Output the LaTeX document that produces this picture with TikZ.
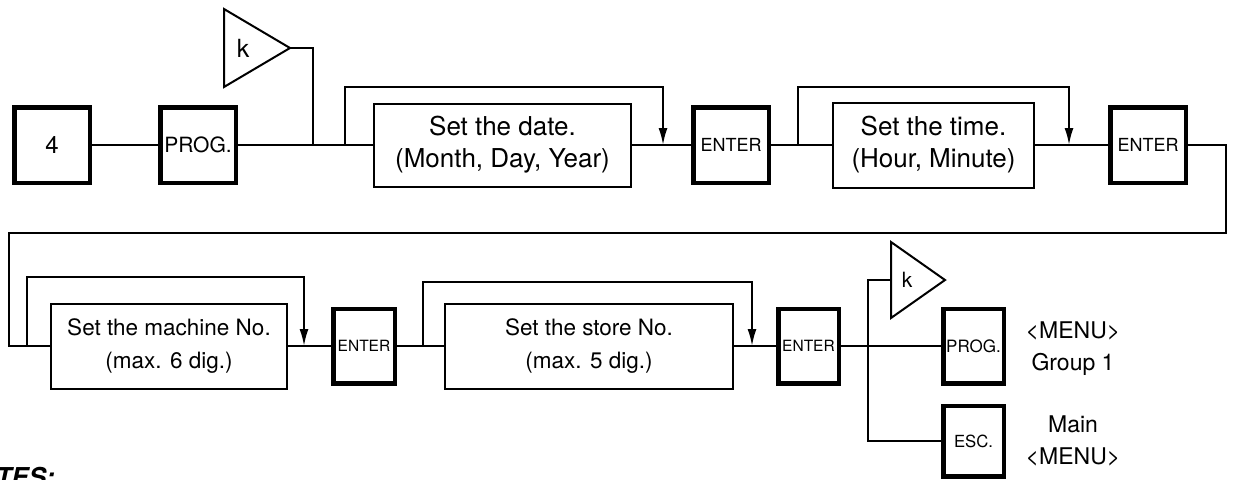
\documentclass[tikz,border=0pt]{standalone}
\usepackage{fontspec}
\setmainfont{TeX Gyre Heros}
\usetikzlibrary{arrows.meta}
\begin{document}
\begin{tikzpicture}[x=1pt,y=-1pt,
  key/.style={draw,line width=4.5pt,inner sep=0pt,minimum width=75.5pt,minimum height=75.5pt},
  skey/.style={draw,line width=4.5pt,inner sep=0pt,minimum width=60.5pt,minimum height=74.5pt},
  setbox/.style={draw,line width=2pt,inner sep=0pt,align=center},
  wire/.style={line width=2pt},
  arr/.style={wire,-{Latex[length=17pt,width=9pt]}},
  tri/.style={draw,line width=2pt,line join=miter},
  big/.style={font=\fontsize{26}{32}\selectfont},
  mid/.style={font=\fontsize{22.5}{33}\selectfont}]
\useasboundingbox (0,0) rectangle (1236,479);
% row 1
\node[key,font=\fontsize{24}{28}\selectfont] (n4) at (52,145) {4};
\node[key,font=\fontsize{21}{24}\selectfont] (prog1) at (198,145) {PROG.};
\node[setbox,big,minimum width=257pt,minimum height=83pt] (date) at (502.5,145) {Set the date.\\(Month, Day, Year)};
\node[key,font=\fontsize{18}{22}\selectfont] (enter1) at (731,145) {ENTER};
\node[setbox,big,minimum width=201pt,minimum height=85pt] (time) at (933.5,145) {Set the time.\\(Hour, Minute)};
\node[key,font=\fontsize{18}{22}\selectfont] (enter2) at (1148,145) {ENTER};
% row 2
\node[setbox,mid,minimum width=236pt,minimum height=85pt] (machine) at (169,346) {Set the machine No.\\(max. 6 dig.)};
\node[skey,minimum width=61.5pt,font=\fontsize{15.5}{20}\selectfont] (enter3) at (364,346) {ENTER};
\node[setbox,mid,minimum width=288pt,minimum height=85pt] (store) at (589,346) {Set the store No.\\(max. 5 dig.)};
\node[skey,font=\fontsize{15.5}{20}\selectfont] (enter4) at (808.5,346) {ENTER};
\node[skey,font=\fontsize{17}{20}\selectfont] (prog2) at (973.5,346) {PROG.};
\node[skey,minimum height=70.5pt,font=\fontsize{16.7}{20}\selectfont] (esc) at (973.5,441) {ESC.};
\node[align=center,font=\fontsize{23}{32}\selectfont] (menu1) at (1073,349) {<MENU>\\Group 1};
\node[align=center,font=\fontsize{23}{32}\selectfont] (menu2) at (1073,441) {Main\\<MENU>};
% k triangles
\draw[tri] (224,9) -- (290,48) -- (224,87) -- cycle;
\node[font=\fontsize{25}{28}\selectfont] (k1lab) at (243,48) {k};
\coordinate (k1) at (290,48);
\draw[tri] (891,242) -- (945,280) -- (891,318) -- cycle;
\node[font=\fontsize{21}{24}\selectfont] (k2lab) at (907,280) {k};
\coordinate (k2) at (891,280);
% coordinates
\coordinate (b1) at (313,145);
\coordinate (l1) at (345,145);
\coordinate (a1) at (663,145);
\coordinate (a1top) at (663,87);
\coordinate (l2) at (798,145);
\coordinate (a2) at (1069,145);
\coordinate (a2top) at (1069,87);
\coordinate (c2) at (1226,233);
\coordinate (c4) at (9,346);
\coordinate (l3) at (27,346);
\coordinate (a3) at (304,346);
\coordinate (a3top) at (304,277);
\coordinate (l4) at (423,346);
\coordinate (a4) at (752,346);
\coordinate (a4top) at (752,282);
\coordinate (b2) at (868,346);
% connectors
\draw[wire] (n4) -- (prog1) -- (date) -- (enter1) -- (time) -- (enter2);
\draw[wire] (k1) -| (b1);
\draw[arr] (l1) |- (a1top) -- (a1);
\draw[arr] (l2) |- (a2top) -- (a2);
\draw[wire] (enter2.east) -| (c2) -| (c4) -- (machine.west);
\draw[wire] (machine) -- (enter3) -- (store) -- (enter4) -- (prog2);
\draw[arr] (l3) |- (a3top) -- (a3);
\draw[arr] (l4) |- (a4top) -- (a4);
\draw[wire] (k2) -| (b2) |- (esc);
% cut-off heading
\begin{scope}
\clip (0,0) rectangle (1236,479);
\node[anchor=base east,inner sep=0pt,font=\fontsize{26}{30}\selectfont\bfseries\itshape] (notes) at (55,486) {NOTES:};
\end{scope}
\end{tikzpicture}
\end{document}
